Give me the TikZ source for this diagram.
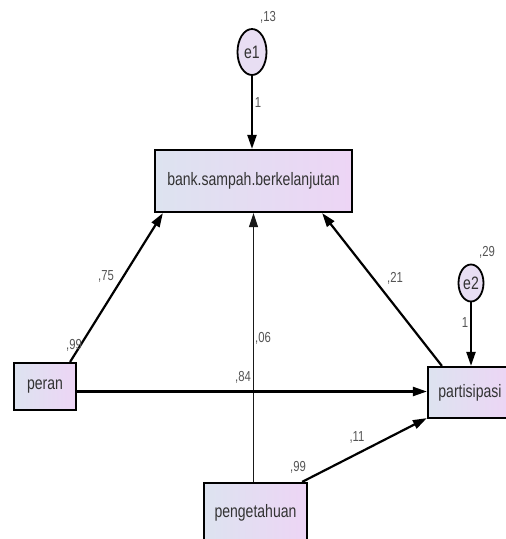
\documentclass[tikz,border=0pt]{standalone}
\usepackage{fontspec}
\setmainfont{Liberation Sans}[FakeStretch=0.78]
\usetikzlibrary{arrows.meta,shapes.geometric,calc}
\definecolor{boxL}{HTML}{DDE3F0}
\definecolor{boxR}{HTML}{EDD5F5}
\definecolor{ellF}{HTML}{E8DEF3}
\definecolor{txt}{HTML}{333333}
\definecolor{lbl}{HTML}{555555}
\tikzset{
  varbox/.style={draw=black, line width=2.2pt, left color=boxL, right color=boxR, rectangle, inner sep=0pt, text=txt, font=\fontsize{18}{20}\selectfont},
  errnode/.style={draw=black, line width=1.8pt, fill=ellF, ellipse, inner sep=0pt, text=txt, font=\fontsize{18}{20}\selectfont},
  path/.style={line width=2.2pt, -{Triangle[length=14pt,width=9pt]}},
  thinpath/.style={line width=1.3pt, draw=black!90, -{Triangle[length=14pt,width=9pt]}},
  coef/.style={text=lbl, font=\fontsize{14.5}{16}\selectfont, inner sep=0pt}
}
\begin{document}
\begin{tikzpicture}[x=1pt,y=-1pt]
\useasboundingbox (0,0) rectangle (506,539);
\clip (0,0) rectangle (506,539);
\fill[white] (0,0) rectangle (506,539);
% nodes
\node[varbox, minimum width=197pt, minimum height=62pt] (main) at (253.5,181) {bank.sampah.berkelanjutan};
\node[errnode, minimum width=29pt, minimum height=46pt] (e1) at (252,52) {e1};
\node[errnode, minimum width=25pt, minimum height=37pt] (e2) at (471,283) {e2};
\node[varbox, minimum width=62pt, minimum height=47pt] (peran) at (45,386.5) {peran};
\node[varbox, minimum width=84pt, minimum height=51pt] (partisipasi) at (470,392.5) {partisipasi};
\node[varbox, minimum width=103pt, minimum height=60pt] (pengetahuan) at (255.5,513) {pengetahuan};
% connectors
\draw[path] (e1.south) -- (e1.south |- main.north);
\draw[path] (e2.south) -- (e2.south |- partisipasi.north);
\draw[path] ([xshift=-7pt]peran.north east) -- ([xshift=9pt]main.south west);
\draw[thinpath] ([xshift=-2pt]pengetahuan.north) -- ([xshift=-2pt]pengetahuan.north |- main.south);
\draw[path] ([xshift=15pt]partisipasi.north west) -- ([xshift=-31pt]main.south east);
\draw[path] ([yshift=-5pt]peran.east) -- ([yshift=-5pt]peran.east -| partisipasi.west);
\draw[path] ([xshift=-6pt]pengetahuan.north east) -- ([yshift=1pt]partisipasi.south west);
% labels
\node[coef] (l13) at (268,17) {,13};
\node[coef] (l1a) at (258,103) {1};
\node[coef] (l29) at (487,252) {,29};
\node[coef] (l1b) at (465,323) {1};
\node[coef] (l75) at (106,276) {,75};
\node[coef] (l99a) at (74,345) {,99};
\node[coef] (l06) at (263,338) {,06};
\node[coef] (l84) at (243,377) {,84};
\node[coef] (l21) at (395,278) {,21};
\node[coef] (l11) at (357,437) {,11};
\node[coef] (l99b) at (298,467) {,99};
\end{tikzpicture}
\end{document}
